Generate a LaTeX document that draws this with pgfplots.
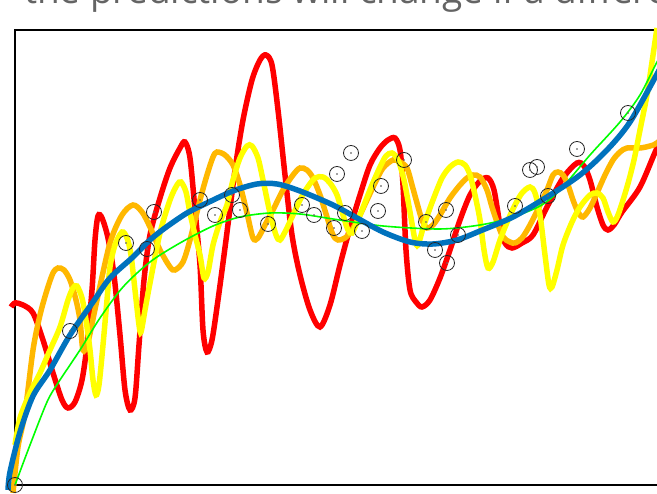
\documentclass[border=0pt]{standalone}
\usepackage{pgfplots}
\pgfplotsset{compat=1.18}
\usepackage{fontspec}
\newfontfamily\titlefont{Open Sans}

\definecolor{fitred}{RGB}{255,0,0}
\definecolor{fitorange}{RGB}{255,184,0}
\definecolor{fityellow}{RGB}{255,255,0}
\definecolor{fitgreen}{RGB}{0,255,0}
\definecolor{fitblue}{RGB}{0,114,189}
\definecolor{titlegray}{RGB}{100,100,100}

\begin{document}
\begin{tikzpicture}
\path[use as bounding box] (0pt,0pt) rectangle (657pt,494pt);
\clip (0pt,0pt) rectangle (657pt,494pt);
\node[anchor=base west, font=\titlefont\fontsize{37}{40}\selectfont, text=titlegray, inner sep=0pt]
  at (24pt,490.5pt) {the predictions will change if a different sample is drawn};
\begin{axis}[
  at={(15pt,9pt)}, anchor=south west,
  scale only axis, width=665pt, height=455pt,
  xmin=15, xmax=680, ymin=15, ymax=470,
  xtick=\empty, ytick=\empty,
  axis line style={black, line width=1.1pt},
  clip=false,
]
% observed sample
\addplot[only marks, mark=o, mark size=7.5pt, mark options={black!85, line width=0.8pt}] coordinates {
(15,15) (70,169) (126,257) (147,251) (154,288) (200,300) (215,285) (232,305)
(240,290) (268,276) (302,295) (314,285) (334,272) (337,326) (345,287) (351,347)
(362,269) (378,289) (381,314) (404,340) (426,278) (435,250) (446,290) (447,237)
(458,265) (515,294) (530,330) (537,333) (548,304) (577,351) (628,387)};
\addplot[only marks, mark=*, mark size=0.6pt, mark options={black!60}] coordinates {
(15,15) (70,169) (126,257) (147,251) (154,288) (200,300) (215,285) (232,305)
(240,290) (268,276) (302,295) (314,285) (334,272) (337,326) (345,287) (351,347)
(362,269) (378,289) (381,314) (404,340) (426,278) (435,250) (446,290) (447,237)
(458,265) (515,294) (530,330) (537,333) (548,304) (577,351) (628,387)};
% high-degree fit
\addplot[fitred, line width=5.5pt, smooth, tension=0.5] coordinates {
(11,193) (15,197) (23,195) (33,187) (43,160) (53,127) (62,100) (68,92) (75,98)
(82,120) (87,155) (92,210) (95,260) (98,284) (102,282) (108,262) (114,225)
(120,165) (125,110) (130,90) (135,102) (139,155) (144,220) (150,265) (160,302)
(170,332) (180,352) (185,358) (190,342) (195,290) (200,235) (203,170) (207,148)
(212,160) (218,200) (226,260) (235,330) (243,380) (252,420) (260,440) (266,445)
(272,435) (278,390) (285,325) (292,265) (300,225) (310,190) (320,173) (330,195)
(340,235) (350,272) (360,305) (370,335) (380,352) (388,360) (395,362) (400,350)
(403,315) (406,250) (410,210) (416,198) (422,193) (430,200) (440,222) (450,250)
(460,280) (470,305) (480,319) (488,322) (494,310) (500,275) (505,257) (512,252)
(522,257) (533,265) (547,293) (563,322) (577,337) (584,334) (590,320) (597,293)
(603,275) (608,270) (614,275) (622,288) (640,313) (657,352) (670,375)};
% second high-degree fit
\addplot[fitorange, line width=5.5pt, smooth, tension=0.5] coordinates {
(13,7) (18,53) (25,87) (33,150) (40,185) (47,210) (53,227) (58,232) (64,230)
(70,220) (76,200) (80,180) (83,150) (88,158) (97,200) (110,257) (122,285)
(133,295) (142,288) (150,273) (160,250) (170,233) (175,230) (183,238) (190,260)
(200,300) (207,325) (213,343) (217,348) (225,345) (233,335) (240,315) (247,287)
(253,262) (258,262) (265,275) (273,290) (283,310) (293,325) (300,332) (307,330)
(313,322) (320,305) (327,283) (333,265) (338,260) (345,262) (352,270) (360,285)
(367,300) (375,317) (383,332) (393,340) (400,338) (407,332) (412,315) (417,297)
(422,280) (427,272) (433,275) (440,285) (450,302) (460,315) (467,322) (473,325)
(480,323) (487,310) (492,293) (497,278) (503,263) (510,258) (515,257) (522,262)
(530,275) (540,295) (547,310) (553,325) (558,328) (563,325) (568,315) (573,300)
(578,288) (583,283) (590,292) (597,307) (605,325) (613,340) (620,348) (627,352)
(640,352) (650,354) (657,357) (670,370)};
% third high-degree fit
\addplot[fityellow, line width=5.5pt, smooth, tension=0.5] coordinates {
(15,55) (20,82) (30,107) (40,127) (50,150) (60,173) (68,200) (73,212) (77,214)
(82,202) (86,180) (90,150) (93,120) (96,105) (99,115) (103,155) (107,200)
(110,233) (115,255) (122,268) (127,262) (131,245) (135,210) (139,175) (141,168)
(145,190) (150,217) (160,267) (170,300) (177,315) (181,318) (186,308) (190,287)
(195,265) (200,245) (204,222) (208,228) (213,255) (220,278) (227,295) (233,320)
(240,342) (247,354) (252,354) (258,342) (263,320) (270,287) (276,265) (280,260)
(286,270) (293,285) (300,300) (307,312) (315,322) (323,323) (330,317) (337,305)
(343,285) (348,270) (352,267) (358,280) (364,295) (372,315) (380,333) (386,344)
(392,347) (398,340) (404,320) (410,288) (415,260) (418,255) (424,275) (433,300)
(442,322) (450,333) (458,338) (465,335) (470,325) (475,305) (480,280) (484,250)
(488,232) (493,238) (500,260) (508,280) (515,295) (522,307) (530,313) (535,307)
(540,285) (545,245) (549,215) (552,213) (557,230) (563,255) (572,278) (580,293)
(590,305) (597,307) (603,302) (608,288) (613,278) (618,285) (627,313) (634,340)
(640,370) (647,405) (652,438) (657,472)};
% true curve
\addplot[fitgreen, line width=1.6pt, smooth] coordinates {
(15,15) (30,55) (47,98) (58,117) (80,150) (100,182) (123,213) (150,238)
(180,257) (213,274) (240,283) (270,287) (300,286) (333,281) (383,274) (440,271)
(480,275) (510,282) (540,294) (560,310) (590,345) (620,378) (640,405) (657,438)
(670,460)};
% low-degree fit
\addplot[fitblue, line width=5.5pt, smooth] coordinates {
(8,10) (10,28) (20,68) (33,104) (50,130) (70,165) (93,198) (110,222) (133,243)
(150,260) (165,272) (187,287) (207,297) (233,309) (257,316) (277,316) (300,309)
(333,295) (357,282) (383,268) (410,258) (433,256) (457,260) (480,269) (513,283)
(547,303) (580,325) (607,350) (630,378) (657,426) (670,450)};
\end{axis}
\end{tikzpicture}
\end{document}
